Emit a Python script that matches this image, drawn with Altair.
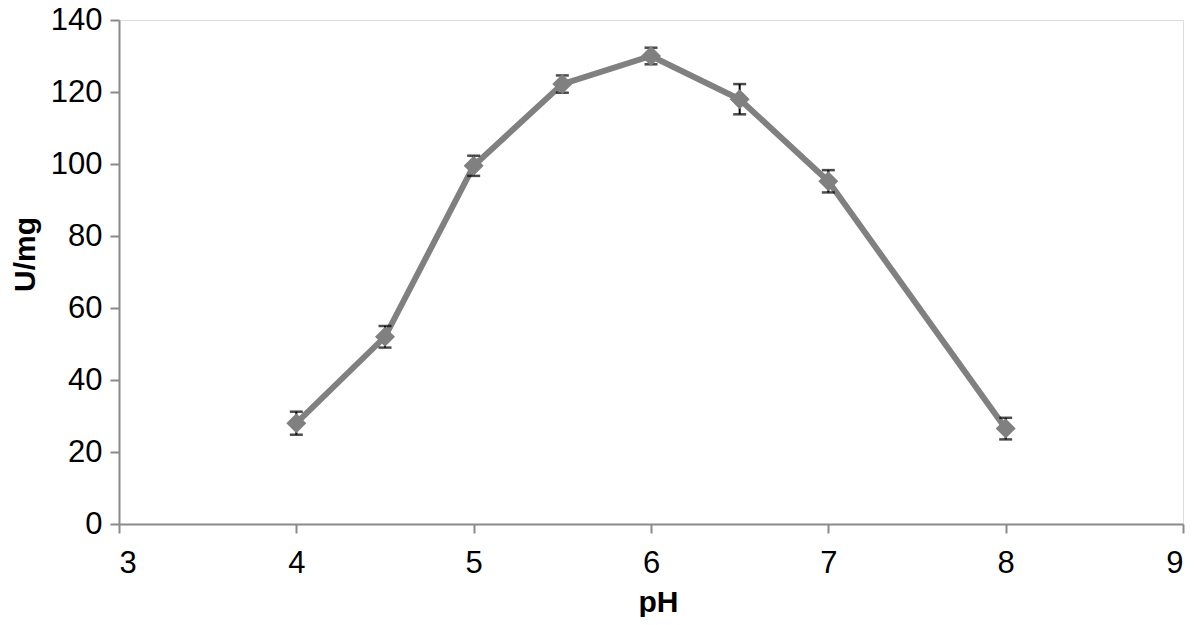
import altair as alt
import pandas as pd

ph = [4, 4.5, 5, 5.5, 6, 6.5, 7, 8]
activity = [28, 52, 99.5, 122.2, 130, 118, 95.2, 26.5]
error = [3.2, 3, 2.8, 2.4, 2.3, 4.2, 3.1, 3]

df = pd.DataFrame({"pH": ph, "U/mg": activity, "err": error})
df["lo"] = df["U/mg"] - df["err"]
df["hi"] = df["U/mg"] + df["err"]

FONT = "Liberation Sans, Arial, Helvetica, sans-serif"
AXIS_GRAY = "#8a8a8a"

x = alt.X("pH:Q", scale=alt.Scale(domain=[3, 9], nice=False),
          axis=alt.Axis(values=[3, 4, 5, 6, 7, 8, 9], format="d", title="pH", grid=False,
                        domainColor=AXIS_GRAY, domainWidth=2, tickColor=AXIS_GRAY,
                        tickWidth=2, tickSize=9, labelPadding=15, labelFontSize=31,
                        labelFont=FONT, labelColor="black", titleFont=FONT,
                        titleFontSize=30, titleFontWeight="bold", titleColor="black",
                        titleX=539, titleAlign="center",
                        titleY=63, titleBaseline="top"))
y = alt.Y("U/mg:Q", scale=alt.Scale(domain=[0, 140], nice=False),
          axis=alt.Axis(values=[0, 20, 40, 60, 80, 100, 120, 140], title="U/mg", grid=False,
                        domainColor=AXIS_GRAY, domainWidth=2, tickColor=AXIS_GRAY,
                        tickWidth=2, tickSize=9, labelPadding=8, labelFontSize=31,
                        labelFont=FONT, labelColor="black", titleFont=FONT,
                        titleFontSize=30, titleFontWeight="bold", titleColor="black",
                        titleX=-85, titleY=234, titleBaseline="alphabetic", titleAngle=270))

base = alt.Chart(df)

line = base.mark_line(color="#808080", strokeWidth=6).encode(x=x, y=y)

rule = base.mark_rule(color="black", strokeWidth=2).encode(x="pH:Q", y="lo:Q", y2="hi:Q")
cap_lo = base.mark_tick(color="black", orient="horizontal", size=13, thickness=2.5).encode(x="pH:Q", y="lo:Q")
cap_hi = base.mark_tick(color="black", orient="horizontal", size=13, thickness=2.5).encode(x="pH:Q", y="hi:Q")

points = base.mark_point(shape="diamond", filled=True, color="#808080", size=400, opacity=1).encode(x=x, y=y)

chart = alt.layer(line, rule, cap_lo, cap_hi, points).properties(
    width=1064, height=504,
    autosize="none",
    padding={"left": 111, "top": 12, "right": 9, "bottom": 93},
).configure_view(stroke=None).configure(background="white")

chart.save("out.html", embed_options={"renderer": "svg", "actions": False})
